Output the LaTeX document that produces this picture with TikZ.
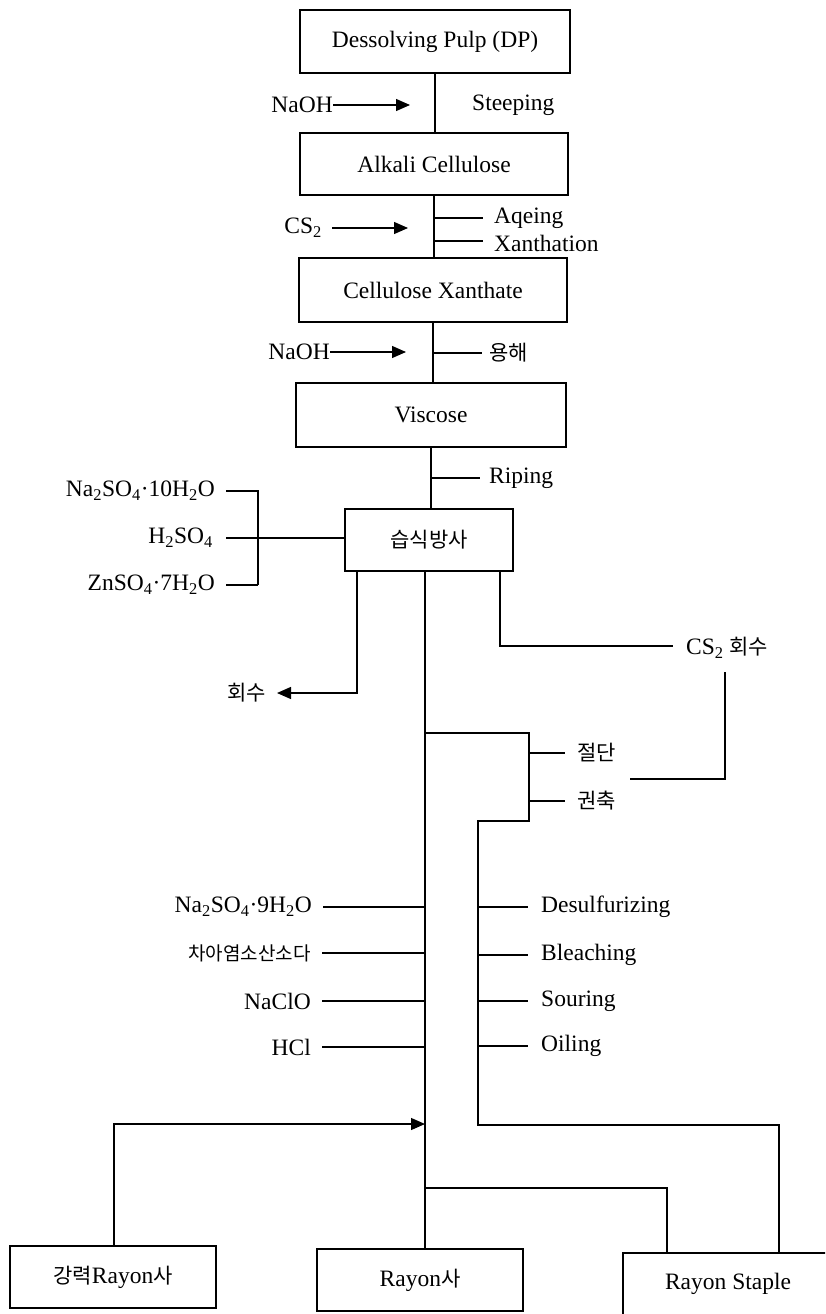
\documentclass[tikz,border=0pt]{standalone}
\usepackage{fontspec}
\setmainfont{Liberation Serif}
\newfontfamily\krf{Noto Sans CJK KR}
\newcommand\kor[1]{{\krf\fontsize{21}{24}\selectfont #1}}
\usetikzlibrary{arrows.meta}
\tikzset{
  box/.style={draw, line width=1.3pt, minimum height=62pt, inner sep=0pt,
    font=\fontsize{23.5}{26}\selectfont},
  lbl/.style={inner sep=0pt, font=\fontsize{23.5}{26}\selectfont},
  ln/.style={line width=1.3pt},
  arr/.style={line width=1.3pt, -{Triangle[length=14pt,width=12pt]}}
}
\begin{document}
\begin{tikzpicture}[x=1pt,y=-1pt]
\useasboundingbox (0,0) rectangle (825,1314);
\clip (0,0) rectangle (825,1314);

% main boxes
\node[box, minimum width=270pt, minimum height=63pt] (dp) at (435,41.5) {Dessolving Pulp (DP)};
\node[box, minimum width=268pt] (ak) at (434,164) {Alkali Cellulose};
\node[box, minimum width=268pt, minimum height=64pt] (cx) at (433,290) {Cellulose Xanthate};
\node[box, minimum width=270pt, minimum height=64pt] (vs) at (431,415) {Viscose};
\node[box, minimum width=168pt] (ws) at (429,540) {\kor{습식방사}};
\node[box, minimum width=206pt] (kr) at (113,1277) {\kor{강력}Rayon\kor{사}};
\node[box, minimum width=206pt] (ry) at (420,1280) {Rayon\kor{사}};
\node[box, minimum width=210pt] (st) at (728,1284) {Rayon Staple};

% vertical spine at top
\draw[ln] (dp.south) -- (dp.south |- ak.north);
\draw[ln] (ak.south) -- (ak.south |- cx.north);
\draw[ln] (cx.south) -- (cx.south |- vs.north);
\draw[ln] (vs.south) -- (vs.south |- ws.north);

% steeping
\node[lbl, anchor=east] (naoh1) at (333,105) {NaOH};
\coordinate (a1) at (410,105);
\draw[arr] (naoh1.east) -- (naoh1.east -| a1);
\node[lbl, anchor=west] (stp) at (472,105) {Steeping};

% ageing / xanthation
\node[lbl, anchor=east] (cs2) at (322,228) {CS\textsubscript{2}};
\coordinate (a2) at (408,228);
\draw[arr, shorten <=10pt] (cs2.east) -- (cs2.east -| a2);
\node[lbl, anchor=west] (aq) at (494,218) {Aqeing};
\node[lbl, anchor=west] (xa) at (494,243) {Xanthation};
\coordinate (t1) at (434,218);
\coordinate (t2) at (434,241);
\draw[ln] (t1) -- (483,218);
\draw[ln] (t2) -- (483,241);

% dissolving
\node[lbl, anchor=east] (naoh2) at (330,352) {NaOH};
\coordinate (a3) at (406,352);
\draw[arr] (naoh2.east) -- (naoh2.east -| a3);
\node[anchor=west, inner sep=0pt] (yh) at (489,353) {\kor{용해}};
\coordinate (t3) at (433,353);
\draw[ln] (t3) -- ([xshift=-7pt]yh.west);

% riping
\node[lbl, anchor=west] (rp) at (489,478) {Riping};
\coordinate (t4) at (431,478);
\draw[ln] (t4) -- ([xshift=-9pt]rp.west);

% spinning bath chemicals
\node[lbl, anchor=east] (c1) at (215,491) {Na\textsubscript{2}SO\textsubscript{4}·10H\textsubscript{2}O};
\node[lbl, anchor=east] (c2) at (213,538) {H\textsubscript{2}SO\textsubscript{4}};
\node[lbl, anchor=east] (c3) at (215,585) {ZnSO\textsubscript{4}·7H\textsubscript{2}O};
\coordinate (b1) at (258,491);
\draw[ln, shorten <=11pt] (c1.east) -- (c1.east -| b1) -- (c3.east -| b1);
\draw[ln, shorten <=11pt] (c3.east) -- (c3.east -| b1);
\draw[ln, shorten <=13pt] (c2.east) -- (c2.east -| ws.west);

% recovery left
\node[anchor=east, inner sep=0pt] (hs) at (266,693) {\kor{회수}};
\coordinate (r1) at (357,571);
\draw[arr] (r1) -- (r1 |- hs.east) -- ([xshift=11pt]hs.east);

% CS2 recovery
\node[lbl, anchor=west] (csr) at (686,648) {CS\textsubscript{2} \kor{회수}};
\coordinate (s1) at (500,571);
\coordinate (s2) at (500,646);
\draw[ln] (s1) -- (s2) -- ([xshift=-13pt]csr.west |- s2);
\coordinate (u1) at (725,672);
\coordinate (u2) at (725,779);
\coordinate (u3) at (630,779);
\draw[ln] (u1) -- (u2) -- (u3);

% main line
\coordinate (m0) at (425,571);
\coordinate (m1) at (425,733);
\coordinate (m2) at (425,1124);
\coordinate (m3) at (425,1188);
\draw[ln] (m0) -- (m3) -- (m3 |- ry.north);

% cutting / crimping
\coordinate (k1) at (529,733);
\coordinate (k2) at (529,821);
\coordinate (k3) at (478,821);
\coordinate (k4) at (478,1125);
\coordinate (k5) at (779,1125);
\draw[ln] (m1) -- (k1) -- (k2) -- (k3) -- (k4) -- (k5) -- (k5 |- st.north);
\node[anchor=west, inner sep=0pt] (jd) at (577,753) {\kor{절단}};
\node[anchor=west, inner sep=0pt] (gc) at (577,801) {\kor{권축}};
\draw[ln] (529,753) -- ([xshift=-12pt]jd.west);
\draw[ln] (529,801) -- ([xshift=-12pt]gc.west);

% after-treatment chemicals (left)
\node[lbl, anchor=east] (l1) at (312,907) {Na\textsubscript{2}SO\textsubscript{4}·9H\textsubscript{2}O};
\node[anchor=east, inner sep=0pt] (l2) at (311,953) {{\krf\fontsize{19}{22}\selectfont 차아염소산소다}};
\node[lbl, anchor=east] (l3) at (311,1001) {NaClO};
\node[lbl, anchor=east] (l4) at (311,1047) {HCl};
\draw[ln, shorten <=11pt] (l1.east) -- (l1.east -| m0);
\draw[ln, shorten <=11pt] (l2.east) -- (l2.east -| m0);
\draw[ln, shorten <=11pt] (l3.east) -- (l3.east -| m0);
\draw[ln, shorten <=11pt] (l4.east) -- (l4.east -| m0);

% after-treatment steps (right)
\node[lbl, anchor=west] (p1) at (541,907) {Desulfurizing};
\node[lbl, anchor=west] (p2) at (541,955) {Bleaching};
\node[lbl, anchor=west] (p3) at (541,1001) {Souring};
\node[lbl, anchor=west] (p4) at (541,1046) {Oiling};
\draw[ln, shorten >=13pt] (p1.west -| k3) -- (p1.west);
\draw[ln, shorten >=13pt] (p2.west -| k3) -- (p2.west);
\draw[ln, shorten >=13pt] (p3.west -| k3) -- (p3.west);
\draw[ln, shorten >=13pt] (p4.west -| k3) -- (p4.west);

% products
\coordinate (g1) at (114,1124);
\draw[arr] (kr.north -| g1) -- (g1) -- (m2);
\coordinate (h1) at (667,1188);
\draw[ln] (m3) -- (h1) -- (h1 |- st.north);
\end{tikzpicture}
\end{document}
